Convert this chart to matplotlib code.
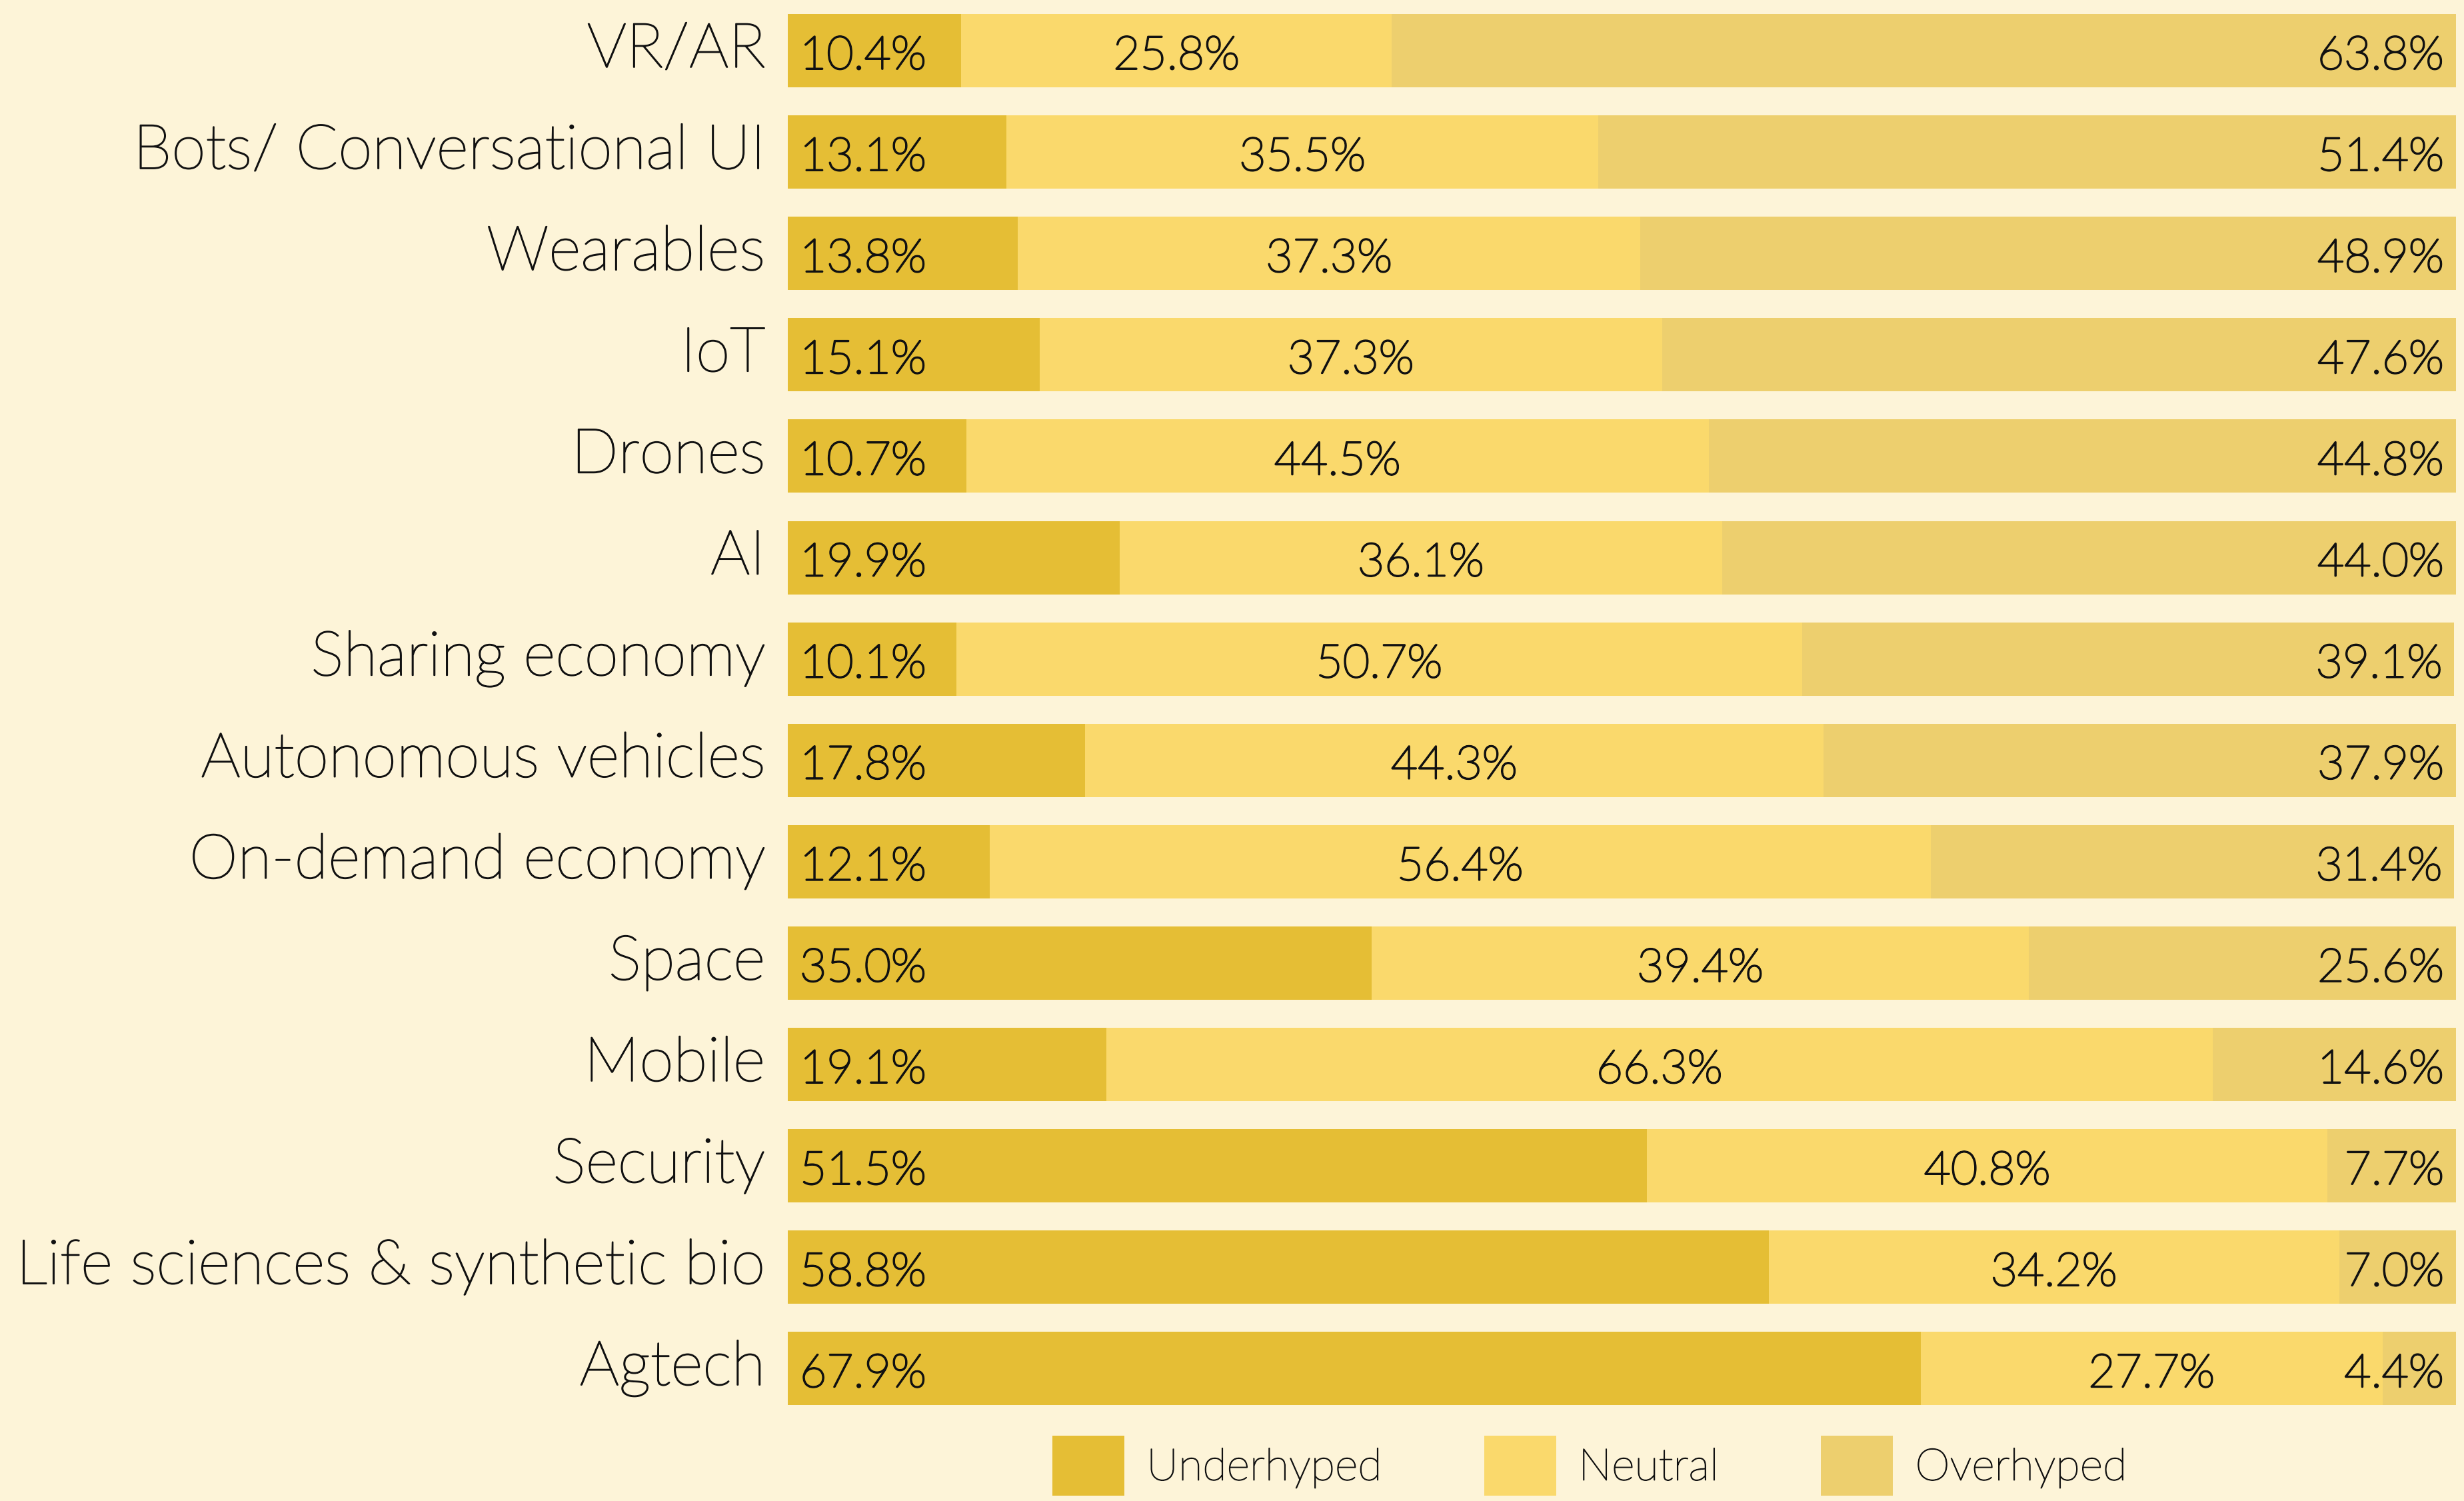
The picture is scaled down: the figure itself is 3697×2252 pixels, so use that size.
import matplotlib
matplotlib.use("Agg")
import matplotlib.pyplot as plt
import matplotlib.patheffects as pe
from matplotlib.patches import Patch
import numpy as np

categories = ["VR/AR", "Bots/ Conversational UI", "Wearables", "IoT", "Drones", "AI",
              "Sharing economy", "Autonomous vehicles", "On-demand economy", "Space",
              "Mobile", "Security", "Life sciences & synthetic bio", "Agtech"]
underhyped = [10.4, 13.1, 13.8, 15.1, 10.7, 19.9, 10.1, 17.8, 12.1, 35.0, 19.1, 51.5, 58.8, 67.9]
neutral = [25.8, 35.5, 37.3, 37.3, 44.5, 36.1, 50.7, 44.3, 56.4, 39.4, 66.3, 40.8, 34.2, 27.7]
overhyped = [63.8, 51.4, 48.9, 47.6, 44.8, 44.0, 39.1, 37.9, 31.4, 25.6, 14.6, 7.7, 7.0, 4.4]
series_names = ["Underhyped", "Neutral", "Overhyped"]

BG = "#FDF4D8"
C_UNDER = "#E5BE35"
C_NEUTRAL = "#FAD96C"
C_OVER = "#EDCF6E"
TXT = "#111111"

W, H = 3697, 2252
fig = plt.figure(figsize=(W / 100, H / 100), dpi=100, facecolor=BG)
ax = fig.add_axes([1182 / W, 0, 2503 / W, 1])
ax.set_facecolor(BG)

y = np.arange(len(categories))
u = np.array(underhyped)
n = np.array(neutral)
o = np.array(overhyped)
total = u + n + o
bh = 0.723
ax.barh(y, u, height=bh, color=C_UNDER, linewidth=0)
ax.barh(y, n, left=u, height=bh, color=C_NEUTRAL, linewidth=0)
ax.barh(y, o, left=u + n, height=bh, color=C_OVER, linewidth=0)

ax.set_xlim(0, total.max())
ax.set_ylim(14.306, -0.5)
for s in ax.spines.values():
    s.set_visible(False)
ax.set_xticks([])
ax.set_yticks([])

lab_font = dict(family=["Lato", "DejaVu Sans"], fontweight="light",
                path_effects=[pe.withStroke(linewidth=1.4, foreground=TXT)])
num_font = dict(family=["Lato", "DejaVu Sans"], fontweight="light",
                path_effects=[pe.withStroke(linewidth=1.9, foreground=TXT)])
numsize = 50
for i in range(len(categories)):
    ax.annotate(categories[i], xy=(0, y[i]), xytext=(-34, 0), textcoords="offset pixels",
                ha="right", va="center", fontsize=67, color=TXT, **lab_font)
    ax.annotate(f"{u[i]:.1f}%", xy=(0, y[i]), xytext=(18, -9), textcoords="offset pixels",
                ha="left", va="center", fontsize=numsize, color=TXT, **num_font)
    ax.annotate(f"{n[i]:.1f}%", xy=(u[i] + n[i] / 2, y[i]), xytext=(0, -9), textcoords="offset pixels",
                ha="center", va="center", fontsize=numsize, color=TXT, **num_font)
    ax.annotate(f"{o[i]:.1f}%", xy=(total[i], y[i]), xytext=(-18, -9), textcoords="offset pixels",
                ha="right", va="center", fontsize=numsize, color=TXT, **num_font)

handles = [Patch(facecolor=c, edgecolor="none") for c in (C_UNDER, C_NEUTRAL, C_OVER)]
leg = fig.legend(handles, series_names, loc="upper center", ncol=3, frameon=False,
                 bbox_to_anchor=(2385 / W, 1 - 2154 / H), borderaxespad=0, borderpad=0,
                 handlelength=1.62, handleheight=1.7, handletextpad=0.5, columnspacing=2.3,
                 prop=dict(family=["Lato", "DejaVu Sans"], weight="light", size=48))
for t in leg.get_texts():
    t.set_color(TXT)
    t.set_path_effects([pe.withStroke(linewidth=1.0, foreground=TXT)])

fig.savefig("out.png", dpi=100, facecolor=BG)
